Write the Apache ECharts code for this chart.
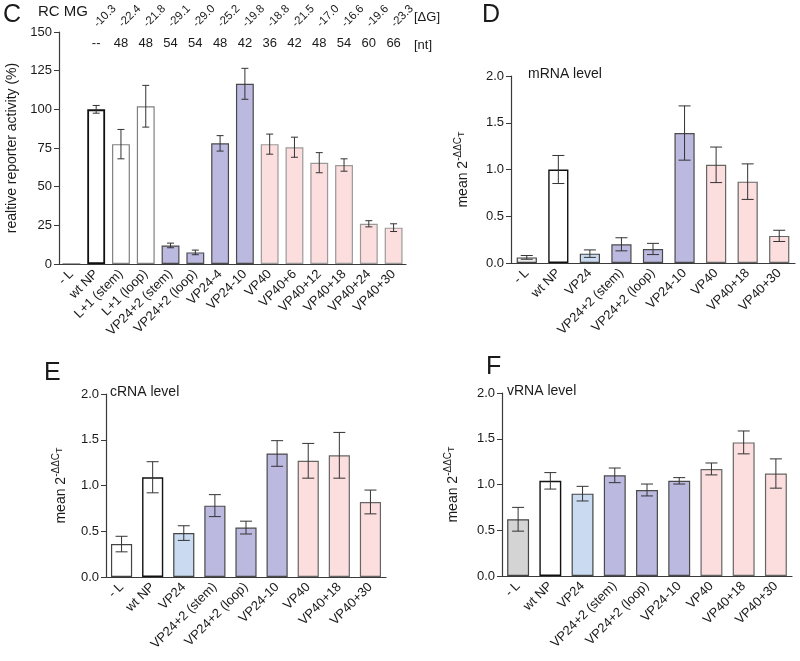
<!DOCTYPE html>
<html>
<head>
<meta charset="utf-8">
<script src="https://cdn.jsdelivr.net/npm/echarts@6/dist/echarts.min.js"></script>
<style>
  html, body { margin: 0; padding: 0; background: #fff; }
  #chart { width: 800px; height: 661px; }
</style>
</head>
<body>
<div id="chart"></div>
<script>
//panel C - reporter activity
const cCats = ["- L", "wt NP", "L+1 (stem)", "L+1 (loop)", "VP24+2 (stem)", "VP24+2 (loop)",
    "VP24-4", "VP24-10", "VP40", "VP40+6", "VP40+12", "VP40+18", "VP40+24", "VP40+30"];
const cMean = [0, 100, 77.5, 102, 12, 7.5, 78, 116.5, 77.5, 75.5, 65.5, 64, 26, 23.5];
const cErr = [0, 2.5, 9.5, 13.5, 1.5, 1.5, 5, 10, 6.5, 6.5, 6.5, 4, 2, 2.5];
const dG = ["", "-10.3", "-22.4", "-21.8", "-29.1", "-29.0", "-25.2", "-19.8", "-18.8",
    "-21.5", "-17.0", "-16.6", "-19.6", "-23.3"];
const nt = ["", "--", "48", "48", "54", "54", "48", "42", "36", "42", "48", "54", "60", "66"];
const cTicks = [0, 25, 50, 75, 100, 125, 150];

//panels D, E, F - qPCR levels
const qCats = ["- L", "wt NP", "VP24", "VP24+2 (stem)", "VP24+2 (loop)", "VP24-10", "VP40", "VP40+18", "VP40+30"];
const mrnaMean = [0.06, 1.0, 0.10, 0.20, 0.15, 1.39, 1.05, 0.87, 0.29];
const mrnaErr = [0.02, 0.15, 0.04, 0.07, 0.06, 0.29, 0.19, 0.19, 0.06];
const crnaMean = [0.36, 1.09, 0.48, 0.78, 0.54, 1.35, 1.27, 1.33, 0.82];
const crnaErr = [0.085, 0.17, 0.08, 0.12, 0.07, 0.14, 0.19, 0.25, 0.13];
const vrnaMean = [0.62, 1.04, 0.90, 1.10, 0.94, 1.04, 1.17, 1.46, 1.12];
const vrnaErr = [0.13, 0.09, 0.08, 0.08, 0.065, 0.035, 0.065, 0.125, 0.16];
const qTicks = [0, 0.5, 1.0, 1.5, 2.0];

const font = "Arial, 'Liberation Sans', sans-serif";
const axisCol = "#3a3a3a";
const txtCol = "#1a1a1a";

const chart = echarts.init(document.getElementById("chart"));

//colour + border per bar
function barStyle(panel, name) {
    const purple = "#bcb9e0", pink = "#fcdede", blue = "#cadbf1";
    if (name === "- L") {
        const fill = panel === "F" ? "#d4d4d4" : (panel === "D" ? "#efefef" : "#ffffff");
        return { color: fill, borderColor: "#444", borderWidth: 1.2 };
    }
    if (name === "wt NP") return { color: "#fff", borderColor: "#111", borderWidth: panel === "C" ? 1.8 : 1.4 };
    if (name.startsWith("L+1")) return { color: "#fff", borderColor: "#808080", borderWidth: 1.2 };
    if (name === "VP24") return { color: blue, borderColor: "#444", borderWidth: 1.2 };
    if (name.startsWith("VP24")) return { color: purple, borderColor: "#4a4a4a", borderWidth: 1.2 };
    return { color: pink, borderColor: panel === "C" ? "#9a9a9a" : "#666", borderWidth: 1.2 };
}

function barSeries(panel, cats, means, axisIdx, width) {
    return {
        type: "bar",
        xAxisIndex: axisIdx.x,
        yAxisIndex: axisIdx.y,
        barWidth: width,
        silent: true,
        data: means.map((m, i) => ({ value: m, itemStyle: barStyle(panel, cats[i]) }))
    };
}

function errSeries(means, errs, axisIdx, cap) {
    return {
        type: "custom",
        xAxisIndex: axisIdx.x,
        yAxisIndex: axisIdx.y,
        z: 5,
        silent: true,
        data: means.map((m, i) => [i, m, errs[i]]),
        encode: { x: 0, y: 1 },
        renderItem: (params, api) => {
            const i = api.value(0), m = api.value(1), e = api.value(2);
            if (!e) return null;
            const hi = api.coord([i, m + e]);
            const lo = api.coord([i, m - e]);
            const st = { stroke: "#333", lineWidth: 1 };
            return {
                type: "group",
                children: [
                    { type: "line", shape: { x1: hi[0], y1: hi[1], x2: lo[0], y2: lo[1] }, style: st },
                    { type: "line", shape: { x1: hi[0] - cap, y1: hi[1], x2: hi[0] + cap, y2: hi[1] }, style: st },
                    { type: "line", shape: { x1: lo[0] - cap, y1: lo[1], x2: lo[0] + cap, y2: lo[1] }, style: st }
                ]
            };
        }
    };
}

function catAxis(grid, cats) {
    return {
        type: "category",
        gridIndex: grid,
        data: cats,
        axisLine: { lineStyle: { color: axisCol, width: 1.2 } },
        axisTick: { alignWithLabel: true, length: 5, lineStyle: { color: axisCol } },
        axisLabel: { rotate: 45, fontSize: 13, color: txtCol, fontFamily: font, margin: 8, interval: 0 }
    };
}

//hidden axes that only carry the ΔG / nt text rows of panel C
function textAxis(grid, cats, cfg) {
    return {
        type: "category",
        gridIndex: grid,
        position: cfg.position,
        data: cats,
        offset: cfg.offset || 0,
        axisLine: { show: false },
        axisTick: { show: false },
        axisLabel: Object.assign({ interval: 0, color: txtCol, fontFamily: font }, cfg.label)
    };
}

const qName = "{a|mean 2}{b|-ΔΔC}{c|T}";
const qRich = {
    a: { fontSize: 14, lineHeight: 20, fontFamily: font, color: txtCol },
    b: { fontSize: 10, lineHeight: 11, verticalAlign: "top", fontFamily: font, color: txtCol },
    c: { fontSize: 9, lineHeight: 10, verticalAlign: "top", padding: [4, 0, 0, 0], fontFamily: font, color: txtCol }
};

function valAxis(grid, ticks, cfg) {
    return {
        type: "value",
        gridIndex: grid,
        min: ticks[0],
        max: ticks[ticks.length - 1],
        interval: ticks[1] - ticks[0],
        name: cfg.name,
        nameLocation: "middle",
        nameGap: cfg.gap,
        nameRotate: 90,
        nameTextStyle: { fontSize: 14, color: txtCol, fontFamily: font, rich: cfg.rich },
        splitLine: { show: false },
        axisLine: { show: true, lineStyle: { color: axisCol, width: 1.2 } },
        axisTick: { show: true, length: 5, lineStyle: { color: axisCol } },
        axisLabel: { fontSize: 13, color: txtCol, fontFamily: font, margin: 7, formatter: cfg.fmt }
    };
}

const oneDec = v => v.toFixed(1);

function label(text, x, y, size, align) {
    return {
        type: "text",
        left: x,
        top: y,
        style: { text: text, fontSize: size, fontFamily: font, fill: txtCol, textAlign: align || "left" }
    };
}

const option = {
    animation: false,
    backgroundColor: "#fff",
    grid: [
        { left: 59, top: 32, width: 347, height: 232 },
        { left: 511, top: 76, width: 284, height: 187 },
        { left: 106, top: 394, width: 280, height: 183 },
        { left: 502, top: 393, width: 290, height: 183 },
        //strip for the ΔG row, nudged right so the slanted numbers sit over their bars
        { left: 77, top: 4, width: 347, height: 1 }
    ],
    xAxis: [
        catAxis(0, cCats),
        textAxis(0, nt, { position: "top", offset: -26, label: { fontSize: 13, margin: 8 } }),
        catAxis(1, qCats),
        catAxis(2, qCats),
        catAxis(3, qCats),
        textAxis(4, dG, { position: "bottom", label: { fontSize: 11.5, rotate: 45, margin: 2 } })
    ],
    yAxis: [
        valAxis(0, cTicks, { name: "realtive reporter activity (%)", gap: 40 }),
        valAxis(1, qTicks, { name: qName, rich: qRich, gap: 38, fmt: oneDec }),
        valAxis(2, qTicks, { name: qName, rich: qRich, gap: 35, fmt: oneDec }),
        valAxis(3, qTicks, { name: qName, rich: qRich, gap: 39, fmt: oneDec }),
        { type: "value", gridIndex: 4, show: false }
    ],
    series: [
        barSeries("C", cCats, cMean, { x: 0, y: 0 }, "72%"),
        errSeries(cMean, cErr, { x: 0, y: 0 }, 3.5),
        barSeries("D", qCats, mrnaMean, { x: 2, y: 1 }, "64%"),
        errSeries(mrnaMean, mrnaErr, { x: 2, y: 1 }, 6),
        barSeries("E", qCats, crnaMean, { x: 3, y: 2 }, "68%"),
        errSeries(crnaMean, crnaErr, { x: 3, y: 2 }, 6),
        barSeries("F", qCats, vrnaMean, { x: 4, y: 3 }, "68%"),
        errSeries(vrnaMean, vrnaErr, { x: 4, y: 3 }, 6)
    ],
    graphic: [
        label("C", 3, 3, 25),
        label("RC MG", 38, 4, 15),
        label("[ΔG]", 414, 11, 13),
        label("[nt]", 414, 39, 13),
        label("D", 482, 3, 25),
        label("mRNA level", 528, 67, 14),
        label("E", 44, 361, 25),
        label("cRNA level", 110, 385, 14),
        label("F", 486, 355, 25),
        label("vRNA level", 507, 384, 14)
    ]
};

chart.setOption(option);
</script>
</body>
</html>
